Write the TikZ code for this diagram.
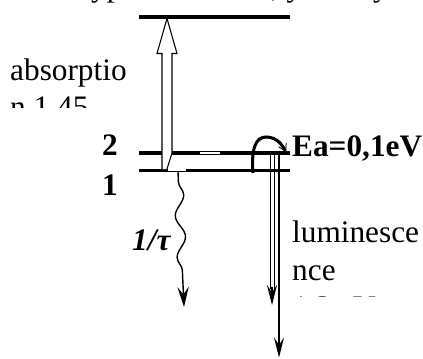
\documentclass[tikz,border=0pt]{standalone}
\usepackage{fontspec}
\setmainfont{Liberation Serif}
\usetikzlibrary{arrows.meta, positioning, calc, decorations.pathmorphing}

\begin{document}
\begin{tikzpicture}[x=0.03cm, y=-0.03cm,
      level/.style={line width=3.4pt},
      lbl/.style={font=\fontsize{26.7}{32}\selectfont, inner sep=0pt,
                  align=left, anchor=north west},
      num/.style={font=\fontsize{26.7}{32}\selectfont\bfseries,
                  inner sep=0pt, anchor=base west},
      emit/.style={line width=1.1pt,
                   -{Stealth[length=6mm, width=3mm, inset=2.2mm]}}]
    \useasboundingbox (0,0) rectangle (423,358);
    % caption line above, cut by the page edge
    \begin{scope}
      \clip (0,0) rectangle (423,9);
      \node[font=\fontsize{26.7}{32}\selectfont, inner sep=0pt,
            anchor=base west] (cap) at (0,-4)
        {Схема уровней иона, участвующих в};
    \end{scope}
    % levels
    \coordinate (tw) at (139,17);    \coordinate (te) at (290,17);
    \coordinate (l2w) at (139,153);  \coordinate (l2e) at (290,153);
    \coordinate (l1w) at (139,170.5); \coordinate (l1e) at (290,170.5);
    \draw[level] (tw) -- (te);
    \draw[level] (l2w) -- (l2e);
    \draw[level] (l1w) -- (l1e);
    \fill[white] (168,166.6) rectangle (186,170.9);
    \fill[white] (200,152.1) rectangle (220,154.0);
    % absorption
    \coordinate (a1) at (167,169);
    \coordinate (a2) at (167,18.5);
    \draw[line width=0.9pt, fill=white]
      ($(a1)+(-5,0)$) -- ($(a2)+(-5,35)$) -- ($(a2)+(-10,35)$) -- (a2)
      -- ($(a2)+(10,35)$) -- ($(a2)+(5,35)$) -- ($(a1)+(5,-16)$) -- (a1);
    % activation over the gap
    \coordinate (e1) at (253,173);
    \coordinate (e2) at (286,152);
    \draw[line width=2.6pt, -{Straight Barb[length=2.2mm, width=2.6mm, line width=0.7pt]}]
      (e1) .. controls (251,148) and (256,137) .. (266,137)
           .. controls (276,137) and (282,144) .. (e2);
    % non-radiative decay
    \coordinate (w1) at (178,172);
    \coordinate (w2) at (184,307);
    \draw[line width=1.2pt, decorate,
      decoration={snake, segment length=1.25cm, amplitude=0.14cm,
                  pre length=0.3cm, post length=0.55cm},
      -{Stealth[length=6mm, width=3.4mm, inset=2.2mm]}] (w1) -- (w2);
    % luminescence
    \coordinate (s1) at (272,155);
    \coordinate (s2) at (272,305);
    \draw[line width=0.8pt] ($(s1)+(-2,0)$) -- ($(s2)+(-2,-16)$);
    \draw[line width=0.8pt] ($(s1)+(2,0)$) -- ($(s2)+(2,-16)$);
    \draw[emit] ($(s2)+(0,-18)$) -- (s2);
    \coordinate (g1) at (279,152);
    \coordinate (g2) at (279,357.5);
    \draw[emit] (g1) -- (g2);
    % labels
    \node[num] (n2) at (102,155) {2};
    \node[num] (n1) at (102,195) {1};
    \node[num] (ea) at (292,156) {Ea=0,1eV};
    \node[num] (tau) at (132,250) {\itshape 1/τ};
    \begin{scope}
      \clip (0,40) rectangle (140,107);
      \node[lbl] (abs) at (10,58.5) {absorptio\\n 1,45};
    \end{scope}
    \begin{scope}
      \clip (285,200) rectangle (423,296);
      \node[lbl] (lum) at (292,221) {luminesce\\nce\\1,3 eV};
    \end{scope}
  \end{tikzpicture}
\end{document}
